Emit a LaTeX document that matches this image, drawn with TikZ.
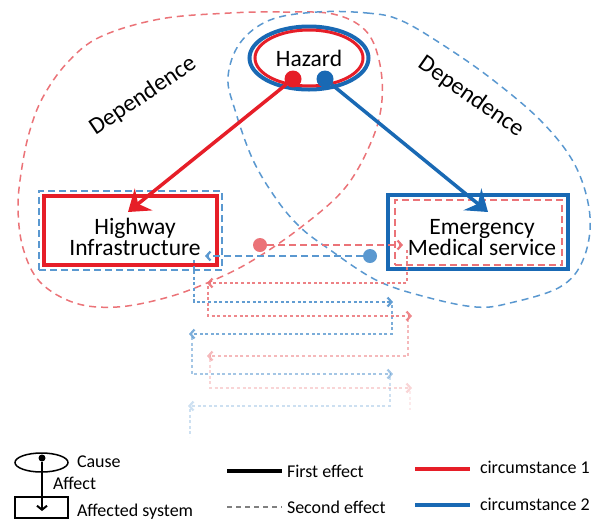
\documentclass[tikz,border=0pt]{standalone}
\usepackage{fontspec}
\setmainfont{Carlito}
\usetikzlibrary{arrows.meta,shapes.geometric}
\definecolor{cred}{RGB}{230,30,40}
\definecolor{cblue}{RGB}{25,105,180}
\definecolor{lred}{RGB}{235,115,120}
\definecolor{lblue}{RGB}{90,152,208}
\begin{document}
\begin{tikzpicture}[x=1pt,y=-1pt,
  every node/.style={inner sep=0pt,outer sep=0pt},
  big/.style={font=\fontsize{23.5}{20.5}\selectfont},
  dep/.style={font=\fontsize{24}{24}\selectfont},
  small/.style={font=\fontsize{18}{20}\selectfont},
  redloop/.style={draw=lred,line width=1.5,dash pattern=on 7 off 5},
  blueloop/.style={draw=lblue,line width=1.5,dash pattern=on 7 off 5},
  dotnode/.style={circle,minimum size=17},
  mainarrow/.style={line width=3.5,-{Stealth[length=20pt,width=28pt,inset=7pt]}},
  chev/.style={-{Straight Barb[length=4pt,width=9pt,line width=2.2pt]}},
  rcasc/.style={draw=lred,line width=1.6,dash pattern=on 3 off 2.6,chev},
  bcasc/.style={draw=lblue,line width=1.6,dash pattern=on 3 off 2.6,chev},
  rdash/.style={draw=lred,line width=2,dash pattern=on 7 off 4,chev},
  bdash/.style={draw=lblue,line width=2,dash pattern=on 7 off 4,chev}
]
\useasboundingbox (0,0) rectangle (593,520);

% dependence loops
\draw[redloop] plot[smooth cycle,tension=0.6] coordinates {
 (230,13) (283,12) (333,14) (365,30) (379,60) (382,100) (372,140) (345,188)
 (300,228) (250,262) (207,283) (165,298) (117,307) (75,303) (40,282) (23,248)
 (18,207) (22,167) (30,130) (43,97) (67,63) (100,37) (160,19)};
\draw[blueloop] plot[smooth cycle,tension=0.6] coordinates {
 (317,12) (367,13) (400,20) (443,45) (493,80) (543,123) (576,167) (590,217)
 (583,260) (560,287) (510,303) (476,307) (426,297) (376,280) (326,247) (300,227)
 (277,200) (253,160) (235,110) (228,77) (240,43) (270,20)};

\node[dep,rotate=34] (dep1) at (143,96) {Dependence};
\node[dep,rotate=-35] (dep2) at (471,97) {Dependence};

% boxes
\node[draw=lblue,line width=2,dash pattern=on 7 off 4,minimum width=183,minimum height=79] (hwo) at (130.5,230.5) {};
\node[draw=cred,line width=4,minimum width=173,minimum height=69] (hw) at (130.5,230.5) {};
\node[big,align=center] (hwt) at (135,237) {Highway\\Infrastructure};

\node[draw=cblue,line width=4.5,minimum width=180,minimum height=74] (em) at (478,232) {};
\node[draw=lred,line width=2,dash pattern=on 7 off 4,minimum width=167,minimum height=65] (emi) at (478,232.5) {};
\node[big,align=center] (emt) at (482,237.5) {Emergency\\Medical service};

% hazard
\node[ellipse,draw=cblue,line width=4,minimum width=119,minimum height=63] (hzo) at (309,58) {};
\node[ellipse,draw=cred,line width=3,minimum width=108,minimum height=56,big] (hz) at (309,58) {Hazard};
\node[dotnode,fill=cred] (rdt) at (293,79) {};
\node[dotnode,fill=cblue] (bdt) at (325,79) {};

\coordinate (hwtip) at (128,212);
\coordinate (emtip) at (488,212);
\draw[cred,mainarrow] (rdt) -- (hwtip);
\draw[cblue,mainarrow] (bdt) -- (emtip);

% second effects
\node[circle,fill=lred,minimum size=14] (rd2) at (260,245) {};
\node[circle,fill=lblue,minimum size=14] (bd2) at (370,256) {};
\coordinate (ra1) at (403,245);
\coordinate (ba1) at (205,256);
\draw[rdash] (rd2) -- (ra1);
\draw[bdash] (bd2) -- (ba1);

\coordinate (b1s) at (194,260); \coordinate (b1c) at (194,302); \coordinate (b1e) at (393,302);
\coordinate (r1s) at (407,250); \coordinate (r1c) at (407,283); \coordinate (r1e) at (207,283);
\coordinate (b2s) at (392,305); \coordinate (b2c) at (392,334); \coordinate (b2e) at (189,334);
\coordinate (r2s) at (208,286); \coordinate (r2c) at (208,316); \coordinate (r2e) at (412,316);
\coordinate (r3s) at (408,319); \coordinate (r3c) at (408,356); \coordinate (r3e) at (207,356);
\coordinate (b3s) at (192,337); \coordinate (b3c) at (192,374); \coordinate (b3e) at (393,374);
\coordinate (r4s) at (210,359); \coordinate (r4c) at (210,388); \coordinate (r4e) at (412,388);
\coordinate (b4s) at (390,377); \coordinate (b4c) at (390,406); \coordinate (b4e) at (188,406);
\coordinate (r5s) at (410,391); \coordinate (r5e) at (410,410);
\coordinate (b5s) at (190,409); \coordinate (b5e) at (190,437);

\draw[bcasc,opacity=.95] (b1s) -- (b1c) -- (b1e);
\draw[rcasc,opacity=.9] (r1s) -- (r1c) -- (r1e);
\draw[bcasc,opacity=.8] (b2s) -- (b2c) -- (b2e);
\draw[rcasc,opacity=.85] (r2s) -- (r2c) -- (r2e);
\draw[rcasc,opacity=.5] (r3s) -- (r3c) -- (r3e);
\draw[bcasc,opacity=.55] (b3s) -- (b3c) -- (b3e);
\draw[rcasc,opacity=.3] (r4s) -- (r4c) -- (r4e);
\draw[bcasc,opacity=.3] (b4s) -- (b4c) -- (b4e);
\draw[rcasc,-,opacity=.15] (r5s) -- (r5e);
\draw[bcasc,-,opacity=.3] (b5s) -- (b5e);

% legend
\node[ellipse,draw,line width=1.5,minimum width=53,minimum height=19] (lcause) at (41.5,462.5) {};
\node[circle,fill=black,minimum size=7] (ldot) at (42,458) {};
\node[draw,line width=1.3,minimum width=53,minimum height=21] (lsys) at (41.5,507.5) {};
\coordinate (ltip) at (42,511);
\draw[line width=1.5,-{Straight Barb[length=4pt,width=10pt,line width=2pt]}] (ldot) -- (ltip);
\node[small,anchor=base west] (tcause) at (77,467) {Cause};
\node[small,anchor=base west] (taffect) at (53,489) {Affect};
\node[small,anchor=base west] (tsys) at (77,516) {Affected system};

\coordinate (l1a) at (227,471); \coordinate (l1b) at (282,471);
\coordinate (l2a) at (227,507); \coordinate (l2b) at (282,507);
\coordinate (l3a) at (415,469); \coordinate (l3b) at (470,469);
\coordinate (l4a) at (415,505); \coordinate (l4b) at (470,505);
\draw[line width=3.5] (l1a) -- (l1b);
\draw[gray,line width=1.5,dash pattern=on 5 off 4] (l2a) -- (l2b);
\draw[cred,line width=4] (l3a) -- (l3b);
\draw[cblue,line width=4] (l4a) -- (l4b);
\node[small,anchor=base west] (tfirst) at (287,477) {First effect};
\node[small,anchor=base west] (tsecond) at (287,513) {Second effect};
\node[small,anchor=base west] (tc1) at (480,473) {circumstance 1};
\node[small,anchor=base west] (tc2) at (480,510) {circumstance 2};
\end{tikzpicture}
\end{document}
